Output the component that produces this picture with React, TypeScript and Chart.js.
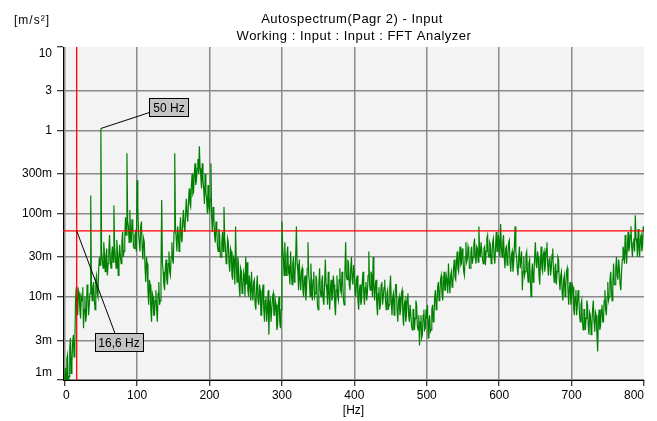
import React, { useEffect, useRef } from 'react';
import { Chart, registerables } from 'chart.js';

Chart.register(...registerables);

const FONT = '"Liberation Sans", Arial, Helvetica, sans-serif';

const TITLE_LINE_1 = 'Autospectrum(Pagr 2) - Input';
const TITLE_LINE_2 = 'Working : Input : Input : FFT Analyzer';
const Y_UNIT = '[m/s²]';
const X_UNIT = '[Hz]';

const X_TICK_VALUES = [0, 100, 200, 300, 400, 500, 600, 700, 800];
const X_TICK_LABELS = ['0', '100', '200', '300', '400', '500', '600', '700', '800'];
const Y_TICK_VALUES = [0.001, 0.003, 0.01, 0.03, 0.1, 0.3, 1, 3, 10];
const Y_TICK_LABELS = ['1m', '3m', '10m', '30m', '100m', '300m', '1', '3', '10'];

const X_MIN = -2.3;
const X_MAX = 800;
const Y_MIN = 0.001;
const Y_MAX = 10;

// spectrum bin spacing (Hz)
const BIN_HZ = 1;

// Autospectrum amplitude in milli m/s² (m units), one value per 1 Hz bin
const SPEC_000_099 = [
  1.0, 1.4, 0.9, 1.8, 2.0, 0.8, 1.1, 2.4, 3.2, 1.2,
  1.6, 2.8, 3.5, 1.9, 2.5, 9, 13, 8, 6, 12,
  11, 7, 5.5, 10, 9, 13, 4.2, 7, 10, 5,
  6, 14, 12, 6, 8, 11, 165, 14, 9, 13,
  15, 9, 7, 16, 18, 11, 10, 22, 30, 24,
  1050, 35, 28, 22, 45, 32, 20, 30, 38, 18,
  25, 35, 55, 28, 22, 33, 40, 26, 125, 40,
  30, 22, 48, 35, 18, 28, 42, 30, 25, 45,
  60, 30, 35, 50, 90, 55, 530, 80, 70, 45,
  110, 60, 45, 85, 75, 40, 38, 55, 60, 35,
];
const SPEC_100_199 = [
  250, 120, 60, 45, 35, 70, 80, 40, 28, 50,
  45, 22, 15, 30, 25, 12, 8, 16, 14, 7,
  5, 11, 10, 6, 6, 9, 12, 7, 5, 11,
  15, 8, 9, 20, 145, 25, 20, 14, 12, 22,
  28, 16, 14, 25, 35, 20, 18, 30, 45, 28,
  25, 60, 530, 70, 50, 35, 70, 55, 35, 60,
  90, 50, 45, 80, 110, 70, 60, 100, 150, 95,
  80, 140, 200, 130, 120, 220, 300, 170, 180, 300,
  400, 220, 250, 350, 450, 300, 640, 350, 280, 200,
  400, 250, 200, 130, 300, 180, 150, 100, 220, 120,
];
const SPEC_200_299 = [
  100, 150, 400, 90, 60, 120, 90, 55, 45, 80,
  70, 40, 35, 65, 55, 30, 30, 45, 60, 35,
  120, 50, 40, 25, 28, 50, 45, 25, 20, 38,
  35, 18, 16, 30, 28, 14, 70, 25, 15, 30,
  25, 13, 10, 22, 20, 11, 12, 20, 18, 10,
  30, 14, 26, 12, 10, 18, 14, 9, 20, 12,
  9, 15, 16, 8, 7, 13, 18, 9, 8, 14,
  12, 6, 6, 11, 14, 7, 5, 9, 10, 5,
  7, 12, 3.5, 8, 9, 5, 5, 10, 11, 6,
  6, 9, 8, 4, 4.5, 8, 10, 5, 4.2, 7,
];
const SPEC_300_399 = [
  80, 40, 30, 18, 45, 25, 18, 32, 40, 20,
  22, 14, 35, 20, 14, 25, 30, 15, 18, 30,
  70, 25, 20, 12, 28, 16, 12, 20, 22, 12,
  10, 16, 18, 9, 12, 22, 45, 18, 15, 10,
  25, 14, 9, 16, 20, 10, 11, 18, 16, 8,
  7, 14, 22, 12, 10, 15, 18, 9, 8, 15,
  28, 14, 12, 8, 20, 11, 7, 13, 16, 9,
  10, 18, 14, 8, 6, 12, 18, 10, 9, 16,
  22, 12, 11, 20, 15, 9, 8, 20, 45, 18,
  16, 28, 25, 14, 12, 22, 30, 16, 14, 24,
];
const SPEC_400_499 = [
  20, 12, 10, 16, 18, 9, 7, 12, 14, 8,
  9, 15, 20, 11, 8, 13, 15, 9, 11, 18,
  35, 14, 12, 20, 18, 10, 30, 13, 9, 14,
  16, 8, 6, 11, 13, 7, 8, 14, 15, 8,
  10, 13, 16, 9, 7, 11, 12, 7, 8, 13,
  18, 9, 6, 10, 11, 6, 9, 14, 14, 7,
  5, 9, 10, 6, 7, 11, 12, 6, 4.5, 8,
  9, 5, 6, 10, 11, 6, 5, 8, 8, 4.5,
  4, 7, 7, 4, 5.5, 9, 8, 4.5, 4, 6,
  2.6, 5, 6, 3.2, 3.5, 6, 7, 4, 4.2, 7,
];
const SPEC_500_599 = [
  5.5, 8, 3.2, 5, 6, 3.8, 4, 7, 8, 5,
  6, 10, 12, 7, 8, 13, 15, 9, 10, 16,
  18, 11, 9, 14, 20, 12, 12, 18, 16, 11,
  25, 15, 11, 18, 20, 13, 14, 22, 28, 17,
  16, 25, 35, 22, 20, 30, 40, 24, 25, 38,
  30, 20, 18, 30, 45, 26, 28, 40, 35, 22,
  22, 35, 40, 25, 30, 42, 50, 30, 25, 40,
  38, 26, 70, 35, 30, 45, 45, 28, 25, 38,
  40, 24, 35, 50, 55, 32, 30, 45, 42, 25,
  28, 45, 50, 30, 25, 40, 60, 35, 35, 55,
];
const SPEC_600_699 = [
  45, 30, 75, 40, 30, 45, 55, 30, 22, 38,
  40, 24, 28, 45, 48, 26, 20, 32, 35, 20,
  25, 40, 70, 35, 30, 22, 18, 30, 40, 22,
  22, 35, 12, 20, 30, 18, 20, 32, 35, 20,
  15, 25, 28, 16, 10, 20, 25, 15, 18, 30,
  45, 25, 22, 35, 30, 18, 14, 25, 40, 22,
  20, 32, 35, 20, 25, 38, 45, 24, 18, 28,
  30, 18, 22, 32, 38, 20, 15, 22, 25, 14,
  20, 30, 28, 16, 12, 18, 20, 11, 9, 16,
  18, 10, 14, 20, 22, 12, 8, 13, 15, 8,
];
const SPEC_700_800 = [
  10, 14, 13, 7, 6, 10, 12, 6, 8, 12,
  10, 6, 5, 8, 9, 5, 4, 7, 7, 4,
  5.5, 9, 8, 4.5, 3.5, 6.5, 6, 3.5, 4.5, 7,
  9, 5, 3.8, 6.5, 6, 3.5, 2.2, 5, 7, 4,
  4.5, 7, 8, 5, 5, 9, 12, 7, 6, 10,
  15, 9, 10, 16, 20, 12, 9, 15, 25, 14,
  14, 22, 30, 18, 16, 28, 22, 14, 12, 20,
  28, 40, 35, 25, 55, 35, 25, 40, 60, 35,
  40, 55, 70, 40, 30, 45, 50, 35, 95, 50,
  45, 30, 65, 40, 30, 50, 55, 35, 40, 70,
  60,
];

// cursors
const CURSOR_HZ = 16.6;
const CURSOR_LEVEL = 0.062;
const PEAK_HZ = 50;
const PEAK_LEVEL = 1.05;
const PEAK_LABEL = '50 Hz';
const CURSOR_LABEL = '16,6 Hz';

const decorPlugin = {
  id: 'decor',
  beforeDraw(chart: any) {
    const { ctx, chartArea: a } = chart;
    ctx.save();
    ctx.fillStyle = '#f3f3f3';
    ctx.fillRect(a.left, a.top, a.right - a.left, a.bottom - a.top);
    ctx.restore();
  },
  afterDraw(chart: any) {
    const { ctx, chartArea: a } = chart;
    const xs = chart.scales.x;
    const ys = chart.scales.y;
    ctx.save();
    ctx.fillStyle = '#000';
    ctx.font = `12px ${FONT}`;

    // y tick labels
    ctx.textAlign = 'right';
    ctx.textBaseline = 'middle';
    Y_TICK_VALUES.forEach((v, i) => {
      let py = ys.getPixelForValue(v);
      py = Math.min(Math.max(py, a.top + 7), a.bottom - 7);
      ctx.fillText(Y_TICK_LABELS[i], a.left - 11, py);
    });

    // x tick labels
    ctx.textAlign = 'center';
    X_TICK_VALUES.forEach((v, i) => {
      const t = X_TICK_LABELS[i];
      const w = ctx.measureText(t).width;
      let px = xs.getPixelForValue(v);
      px = Math.min(Math.max(px, a.left + w / 2), a.right - w / 2);
      ctx.fillText(t, px, a.bottom + 16);
    });

    // axis unit labels
    ctx.fillText(X_UNIT, (a.left + a.right) / 2, a.bottom + 31);
    ctx.textAlign = 'left';
    ctx.textBaseline = 'alphabetic';
    (ctx as any).letterSpacing = '1px';
    ctx.font = `12px ${FONT}`;
    ctx.fillText(Y_UNIT, 14, 24);

    // titles
    ctx.textAlign = 'center';
    ctx.font = `13px ${FONT}`;
    (ctx as any).letterSpacing = '0.5px';
    ctx.fillText(TITLE_LINE_1, 352, 23);
    ctx.fillText(TITLE_LINE_2, 354, 40);
    (ctx as any).letterSpacing = '0px';

    // annotation boxes
    ctx.font = `12px ${FONT}`;
    const drawBox = (label: string, bx: number, by: number, bw: number, bh: number) => {
      ctx.fillStyle = '#c4c4c4';
      ctx.fillRect(bx, by, bw, bh);
      ctx.strokeStyle = '#000';
      ctx.lineWidth = 1;
      ctx.strokeRect(Math.round(bx) + 0.5, Math.round(by) + 0.5, bw, bh);
      ctx.fillStyle = '#000';
      ctx.textAlign = 'center';
      ctx.textBaseline = 'middle';
      ctx.fillText(label, bx + bw / 2, by + bh / 2 + 1);
    };

    // 50 Hz peak label
    const p1x = xs.getPixelForValue(PEAK_HZ);
    const p1y = ys.getPixelForValue(PEAK_LEVEL);
    const b1x = p1x + 48.6;
    const b1y = p1y - 30;
    ctx.strokeStyle = '#000';
    ctx.lineWidth = 1;
    ctx.beginPath();
    ctx.moveTo(p1x, p1y);
    ctx.lineTo(b1x, b1y + 14);
    ctx.stroke();
    drawBox(PEAK_LABEL, b1x, b1y, 39, 18);

    // cursor label
    const p2x = xs.getPixelForValue(CURSOR_HZ);
    const p2y = ys.getPixelForValue(CURSOR_LEVEL);
    const b2x = p2x + 18.3;
    const b2y = p2y + 102.6;
    ctx.beginPath();
    ctx.moveTo(p2x, p2y);
    ctx.lineTo(p2x + 38.3, b2y);
    ctx.stroke();
    drawBox(CURSOR_LABEL, b2x, b2y, 48, 18);

    ctx.restore();
  },
};

export default function App() {
  const ref = useRef<HTMLCanvasElement>(null);

  useEffect(() => {
    const canvas = ref.current;
    if (!canvas) return;
    const spectrum = [
      ...SPEC_000_099,
      ...SPEC_100_199,
      ...SPEC_200_299,
      ...SPEC_300_399,
      ...SPEC_400_499,
      ...SPEC_500_599,
      ...SPEC_600_699,
      ...SPEC_700_800,
    ].map((v, i) => ({ x: i * BIN_HZ, y: v / 1000 }));

    const chart = new Chart(canvas, {
      type: 'line',
      data: {
        datasets: [
          {
            data: [
              { x: CURSOR_HZ, y: Y_MIN },
              { x: CURSOR_HZ, y: Y_MAX },
            ],
            borderColor: '#ff0000',
            borderWidth: 1.3,
            pointRadius: 0,
            order: 0,
          },
          {
            data: [
              { x: X_MIN, y: CURSOR_LEVEL },
              { x: X_MAX, y: CURSOR_LEVEL },
            ],
            borderColor: '#ff0000',
            borderWidth: 1.3,
            pointRadius: 0,
            order: 0,
          },
          {
            data: spectrum,
            borderColor: '#008000',
            borderWidth: 1.2,
            pointRadius: 0,
            tension: 0,
            order: 1,
          },
        ],
      },
      options: {
        animation: false,
        responsive: true,
        maintainAspectRatio: false,
        events: [],
        layout: { padding: { left: 0, right: 13, top: 47, bottom: 0 } },
        plugins: { legend: { display: false }, tooltip: { enabled: false }, title: { display: false } },
        scales: {
          x: {
            type: 'linear',
            min: X_MIN,
            max: X_MAX,
            afterBuildTicks: (s: any) => {
              s.ticks = X_TICK_VALUES.map((v) => ({ value: v }));
            },
            afterFit: (s: any) => {
              s.height = 41;
            },
            ticks: { display: false },
            grid: {
              color: (c: any) => (c.tick && c.tick.value === X_MAX ? 'rgba(0,0,0,0)' : '#8a8a8a'),
              lineWidth: 1.5,
              tickColor: '#000',
              tickLength: 6,
              tickWidth: 1,
            },
            border: { display: true, color: '#000', width: 1 },
          },
          y: {
            type: 'logarithmic',
            min: Y_MIN,
            max: Y_MAX,
            afterBuildTicks: (s: any) => {
              s.ticks = Y_TICK_VALUES.map((v) => ({ value: v }));
            },
            afterFit: (s: any) => {
              s.width = 63;
            },
            ticks: { display: false },
            grid: {
              color: (c: any) => (c.tick && c.tick.value === Y_MAX ? 'rgba(0,0,0,0)' : '#8a8a8a'),
              lineWidth: 1.5,
              tickColor: '#000',
              tickLength: 6,
              tickWidth: 1,
            },
            border: { display: true, color: '#000', width: 1 },
          },
        },
      } as any,
      plugins: [decorPlugin],
    });
    return () => chart.destroy();
  }, []);

  return (
    <div style={{ position: 'fixed', left: 0, top: 0, width: 657, height: 421, background: '#fff' }}>
      <canvas ref={ref} />
    </div>
  );
}
